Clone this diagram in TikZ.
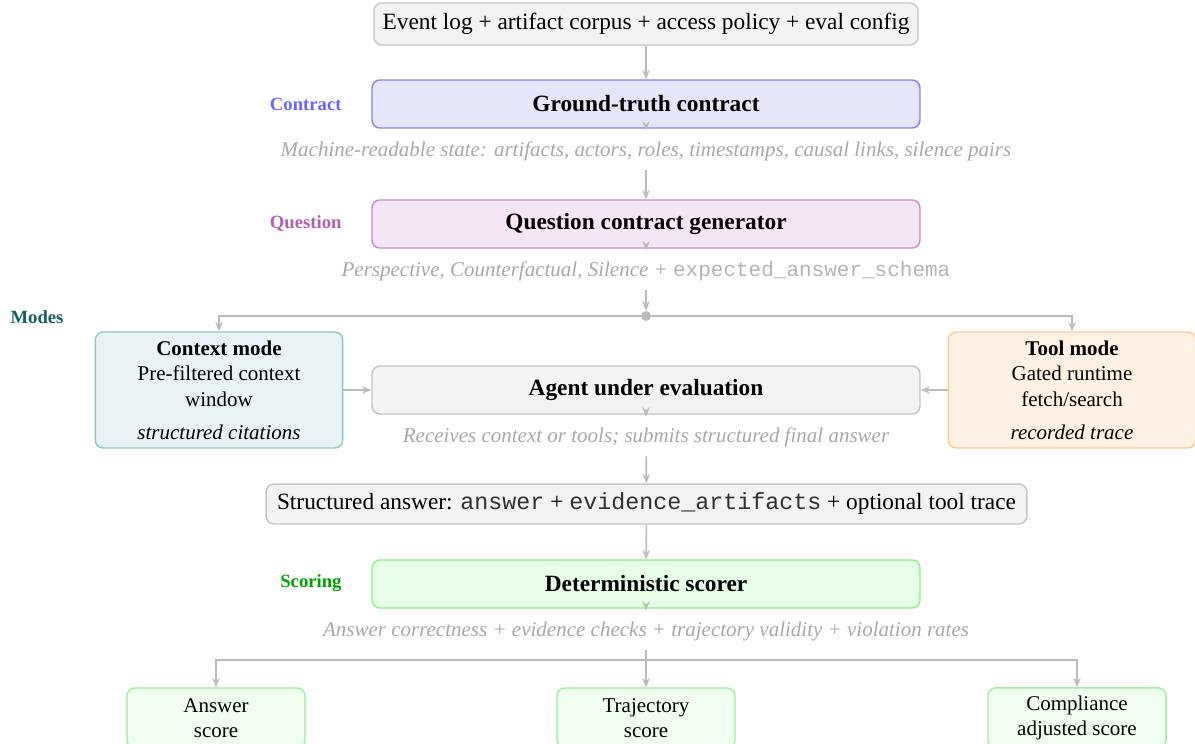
\documentclass[tikz,border=0pt]{standalone}
\usepackage{fontspec}
\setmainfont{Liberation Serif}
\setmonofont{Liberation Mono}
\usetikzlibrary{arrows.meta}
\definecolor{boxgray}{HTML}{F3F3F3}
\definecolor{edgegray}{HTML}{C4C4C4}
\definecolor{linegray}{HTML}{BBBBBB}
\definecolor{notegray}{HTML}{A8A8A8}
\definecolor{monogray}{HTML}{B4B4B4}
\definecolor{monotext}{HTML}{303030}
\definecolor{contractfill}{HTML}{E6E6FA}
\definecolor{contractedge}{HTML}{8080FF}
\definecolor{contracttag}{HTML}{6666FF}
\definecolor{questionfill}{HTML}{F4E6F4}
\definecolor{questionedge}{HTML}{CC88CC}
\definecolor{questiontag}{HTML}{B060B0}
\definecolor{ctxfill}{HTML}{E9F3F5}
\definecolor{ctxedge}{HTML}{8CC8C8}
\definecolor{toolfill}{HTML}{FFF1E3}
\definecolor{tooledge}{HTML}{FFC890}
\definecolor{modestag}{HTML}{1A6060}
\definecolor{scorerfill}{HTML}{E6FFE6}
\definecolor{scoreredge}{HTML}{88EE88}
\definecolor{scoringtag}{HTML}{00A000}
\definecolor{scorefill}{HTML}{F0FFF0}
\definecolor{scoreedge}{HTML}{9CEE9C}

\begin{document}
\begin{tikzpicture}[x=0.4285pt, y=-0.4285pt,
    box/.style={draw=edgegray, fill=boxgray, rounded corners=3.4pt, line width=0.6pt, align=center},
    mainbox/.style={box, minimum width=234.8pt, minimum height=20.6pt, font=\bfseries},
    modebox/.style={box, minimum width=106pt, minimum height=49.7pt, font=\small},
    scorebox/.style={box, draw=scoreedge, fill=scorefill, minimum width=76.3pt, minimum height=25.7pt, font=\small},
    note/.style={font=\small\itshape, text=notegray, inner xsep=2pt, inner ysep=2pt, text height=9.1pt, text depth=3.6pt},
    tag/.style={font=\footnotesize\bfseries, anchor=east, inner sep=0pt},
    flow/.style={draw=linegray, line width=0.7pt, -{Stealth[length=4pt, width=3.2pt]}},
    link/.style={draw=linegray, line width=0.8pt}]
  \useasboundingbox (0,0) rectangle (1195,744);

  \node[box, minimum width=233.1pt, minimum height=18pt] (input) at (646,24) {Event log + artifact corpus + access policy + eval config};

  \node[mainbox, draw=contractedge, fill=contractfill] (gt) at (646,104) {Ground-truth contract};
  \node[tag, text=contracttag] (gttag) at (342,104) {Contract};
  \node[note] (n1) at (646,150.5) {Machine-readable state: artifacts, actors, roles, timestamps, causal links, silence pairs};

  \node[mainbox, draw=questionedge, fill=questionfill] (qgen) at (646,224) {Question contract generator};
  \node[tag, text=questiontag] (qtag) at (342,224) {Question};
  \node[note] (n2) at (646,270.5) {Perspective, Counterfactual, Silence + \textcolor{monogray}{\texttt{\upshape expected\_answer\_schema}}};

  \node[circle, fill=linegray, inner sep=0pt, minimum size=4.2pt] (split) at (646,316) {};
  \node[font=\footnotesize\bfseries, text=modestag, inner sep=0pt] (modestag) at (37,317) {Modes};

  \node[modebox, draw=ctxedge, fill=ctxfill] (ctx) at (219,390) {\textbf{Context mode}\\Pre-filtered context\\window\\[3pt]\textit{structured citations}};
  \node[modebox, draw=tooledge, fill=toolfill] (tool) at (1072,390) {\textbf{Tool mode}\\Gated runtime\\fetch/search\\[3pt]\textit{recorded trace}};
  \node[mainbox] (agent) at (646,390) {Agent under evaluation};
  \node[note] (n3) at (646,436.5) {Receives context or tools; submits structured final answer};

  \node[box, minimum width=326pt, minimum height=17.1pt] (ans) at (646.5,504) {Structured answer: \textcolor{monotext}{\texttt{answer}} + \textcolor{monotext}{\texttt{evidence\_artifacts}} + optional tool trace};

  \node[mainbox, draw=scoreredge, fill=scorerfill] (scorer) at (646,584) {Deterministic scorer};
  \node[tag, text=scoringtag] (stag) at (342,583) {Scoring};
  \node[note] (n4) at (646,630.5) {Answer correctness + evidence checks + trajectory validity + violation rates};

  \coordinate (fan) at (646,660);
  \node[scorebox] (sa) at (216,718) {Answer\\score};
  \node[scorebox] (st) at (646,718) {Trajectory\\score};
  \node[scorebox] (sc) at (1077,718) {Compliance\\adjusted score};

  \draw[flow] (input) -- (gt);
  \draw[flow] (gt) -- (n1);
  \draw[flow] (n1) -- (qgen);
  \draw[flow] (qgen) -- (n2);
  \draw[flow] (n2) -- (split);
  \draw[flow] (split) -| (ctx);
  \draw[flow] (split) -| (tool);
  \draw[flow] (ctx) -- (agent);
  \draw[flow] (tool) -- (agent);
  \draw[flow] (agent) -- (n3);
  \draw[flow] (n3) -- (ans);
  \draw[flow] (ans) -- (scorer);
  \draw[flow] (scorer) -- (n4);
  \draw[link] (n4.south) -- (fan);
  \draw[flow] (fan) -| (sa);
  \draw[flow] (fan) -- (st);
  \draw[flow] (fan) -| (sc);
\end{tikzpicture}
\end{document}
